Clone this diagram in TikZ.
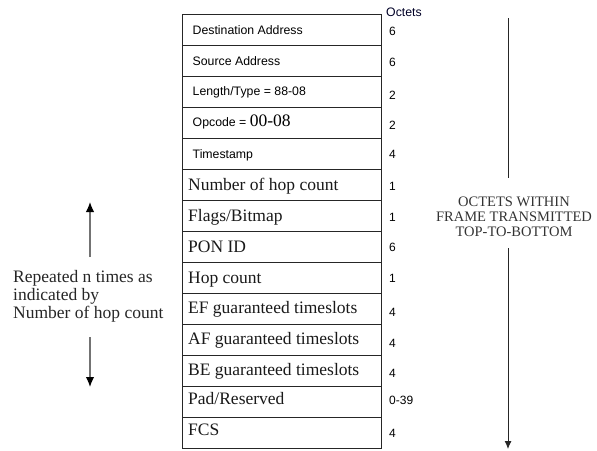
\documentclass[tikz,border=0pt]{standalone}
\usepackage{fontspec}
\setmainfont{Liberation Serif}
\setsansfont{Liberation Sans}
\usetikzlibrary{arrows.meta}
\tikzset{
  rowbox/.style={draw=black!85, line width=0.9pt, minimum width=199pt, minimum height=31pt, inner sep=0pt, outer sep=0pt},
  sflab/.style={anchor=base west, inner sep=0pt, font=\sffamily\fontsize{12.3}{14}\selectfont, text=black},
  rmlab/.style={anchor=base west, inner sep=0pt, font=\rmfamily\fontsize{17.5}{18}\selectfont, text=black!90},
  numlab/.style={anchor=base west, inner sep=0pt, font=\sffamily\fontsize{12}{14}\selectfont, text=black},
  sideline/.style={line width=0.9pt, draw=black!85},
  sidearrow/.style={line width=1.3pt, draw=black!55, -{Latex[length=10pt,width=8.5pt,fill=black,color=black]}},
}
\begin{document}
\begin{tikzpicture}[x=1pt,y=-1pt]
\useasboundingbox (0,0) rectangle (597,450);
% rows
\foreach \i in {1,...,14}{
  \node[rowbox] (r\i) at (281.5,{14+31*(\i-1)+15.5}) {};
}
% sans labels
\node[sflab] (t1) at (192.5,34.5) {Destination Address};
\node[sflab] (t2) at (192.5,65.5) {Source Address};
\node[sflab] (t3) at (192.5,95.5) {Length/Type = 88-08};
\node[sflab] (t4) at (192.5,126.5) {Opcode = {\rmfamily\fontsize{17.5}{18}\selectfont 00-08}};
\node[sflab] (t5) at (192.5,158.5) {Timestamp};
% serif labels
\node[rmlab] (t6) at (188,190) {Number of hop count};
\node[rmlab] (t7) at (188,221.5) {Flags/Bitmap};
\node[rmlab] (t8) at (188,252.5) {PON ID};
\node[rmlab] (t9) at (188,283.5) {Hop count};
\node[rmlab] (t10) at (188,313) {EF guaranteed timeslots};
\node[rmlab] (t11) at (188,344) {AF guaranteed timeslots};
\node[rmlab] (t12) at (188,375.5) {BE guaranteed timeslots};
\node[rmlab] (t13) at (188,404) {Pad/Reserved};
\node[rmlab] (t14) at (188,435.5) {FCS};
% octets
\node[sflab, text=black!85!blue] (oct) at (386,16.5) {Octets};
\node[numlab] (n1) at (389,35.5) {6};
\node[numlab] (n2) at (389,66.5) {6};
\node[numlab] (n3) at (389,99.5) {2};
\node[numlab] (n4) at (389,129.5) {2};
\node[numlab] (n5) at (389,158.5) {4};
\node[numlab] (n6) at (389,190.5) {1};
\node[numlab] (n7) at (389,221) {1};
\node[numlab] (n8) at (389,251.5) {6};
\node[numlab] (n9) at (389,282.5) {1};
\node[numlab] (n10) at (389,316.5) {4};
\node[numlab] (n11) at (389,347.5) {4};
\node[numlab] (n12) at (389,377.5) {4};
\node[numlab] (n13) at (389,404.5) {0-39};
\node[numlab] (n14) at (389,437.5) {4};
% right side
\node[align=center, inner sep=0pt, font=\rmfamily\fontsize{14.5}{15}\selectfont, text=black!80] (rtxt) at (514,217) {OCTETS WITHIN\\FRAME TRANSMITTED\\TOP-TO-BOTTOM};
\coordinate (rtop) at (508,18);
\coordinate (rmid1) at (508,178);
\coordinate (rmid2) at (508,248);
\coordinate (rbot) at (508,449);
\draw[sideline] (rtop) -- (rmid1);
\draw[sideline, -{Latex[length=8pt,width=7pt]}] (rmid2) -- (rbot);
% left side
\node[align=left, anchor=west, inner sep=0pt, font=\rmfamily\fontsize{17.5}{18}\selectfont, text=black!85] (ltxt) at (13,296) {Repeated n times as\\indicated by\\Number of hop count};
\coordinate (lup0) at (90,257);
\coordinate (lup1) at (90,202);
\coordinate (ldn0) at (90,337);
\coordinate (ldn1) at (90,387);
\draw[sidearrow] (lup0) -- (lup1);
\draw[sidearrow] (ldn0) -- (ldn1);
\end{tikzpicture}
\end{document}
